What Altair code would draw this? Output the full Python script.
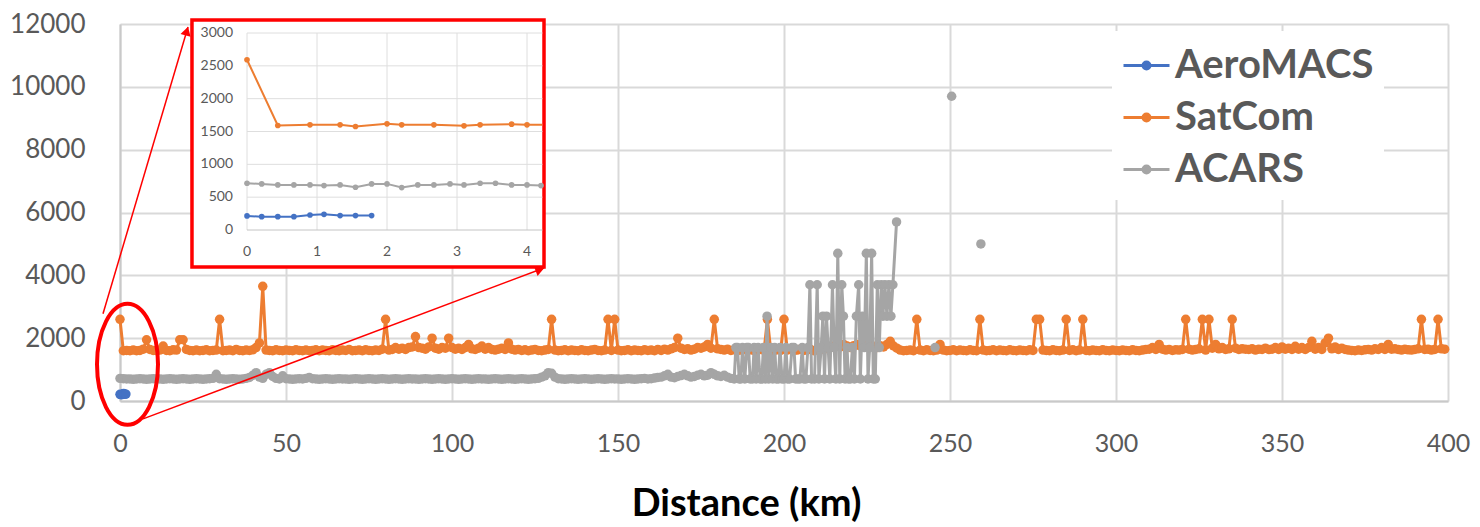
import altair as alt
import pandas as pd

SERIES = ["AeroMACS", "SatCom", "ACARS"]
COLORS = ["#4472C4", "#ED7D31", "#A5A5A5"]
FONT = "Lato"
LABEL_GRAY = "#595959"

# ---------------- main chart data ----------------
# SatCom: one reading per km, starting at 0 km
satcom_vals = [
    2600, 1600, 1610, 1600, 1620, 1600, 1610, 1650, 1950, 1640, 1610, 1600, 1620, 1750, 1610, 1600, 1630, 1620, 1950, 1950,
    1640, 1610, 1600, 1620, 1600, 1610, 1630, 1600, 1610, 1620, 2600, 1600, 1610, 1620, 1600, 1640, 1610, 1600, 1620, 1610,
    1630, 1700, 1850, 3650, 1620, 1610, 1600, 1630, 1610, 1600, 1620, 1610, 1600, 1630, 1610, 1600, 1620, 1600, 1610, 1630,
    1600, 1620, 1610, 1600, 1630, 1610, 1600, 1620, 1610, 1640, 1600, 1610, 1620, 1600, 1630, 1610, 1600, 1620, 1610, 1650,
    2600, 1620, 1640, 1700, 1650, 1680, 1640, 1700, 1720, 2050, 1700, 1680, 1650, 1720, 2000, 1680, 1650, 1700, 1680, 2000,
    1700, 1650, 1680, 1640, 1700, 1800, 1660, 1640, 1680, 1750, 1650, 1700, 1640, 1620, 1650, 1680, 1640, 1850, 1650, 1620,
    1640, 1610, 1630, 1600, 1620, 1640, 1610, 1600, 1620, 1640, 2600, 1620, 1600, 1610, 1630, 1600, 1620, 1610, 1600, 1630,
    1610, 1600, 1620, 1640, 1610, 1600, 1620, 2600, 1610, 2600, 1620, 1600, 1610, 1630, 1600, 1620, 1610, 1600, 1630, 1610,
    1620, 1600, 1640, 1610, 1650, 1620, 1660, 1700, 2000, 1680, 1640, 1660, 1620, 1650, 1700, 1680, 1720, 1800, 1680, 2600,
    1660, 1640, 1620, 1650, 1610, 1630, 1600, 1620, 1640, 1610, 1630, 1600, 1620, 1640, 1610, 2600, 1620, 1600, 1630, 1610,
    2600, 1620, 1640, 1600, 1620, 1650, 1610, 1630, 1640, 1600, 1620, 1650, 1640, 1680, 1700, 1750, 2000, 1720, 1800, 1750,
    1700, 1760, 1800, 1750, 2000, 2000, 1780, 1740, 1700, 1760, 1720, 1800, 1900, 1750, 1680, 1620, 1600, 1610, 1620, 1600,
    2600, 1620, 1600, 1630, 1610, 1600, 1620, 1800, 1620, 1600, 1610, 1630, 1600, 1620, 1610, 1600, 1630, 1610, 1600, 2600,
    1620, 1600, 1610, 1630, 1600, 1620, 1610, 1600, 1630, 1610, 1600, 1620, 1610, 1600, 1630, 1610, 2600, 2600, 1620, 1610,
    1600, 1630, 1610, 1600, 1620, 2600, 1610, 1630, 1600, 1620, 2600, 1610, 1600, 1620, 1610, 1600, 1630, 1610, 1600, 1620,
    1610, 1600, 1620, 1610, 1600, 1630, 1610, 1600, 1620, 1640, 1650, 1700, 1640, 1800, 1650, 1620, 1640, 1610, 1630, 1620,
    1640, 2600, 1650, 1620, 1640, 1660, 2600, 1620, 2600, 1680, 1800, 1660, 1700, 1640, 1660, 2600, 1680, 1640, 1660, 1650,
    1640, 1660, 1620, 1650, 1640, 1680, 1640, 1650, 1700, 1640, 1720, 1650, 1680, 1640, 1740, 1650, 1700, 1640, 1700, 1900,
    1650, 1700, 1640, 1850, 2000, 1660, 1720, 1640, 1680, 1640, 1620, 1610, 1600, 1620, 1610, 1630, 1640, 1620, 1660, 1640,
    1700, 1640, 1800, 1650, 1660, 1640, 1620, 1650, 1630, 1620, 1640, 1660, 2600, 1640, 1650, 1620, 1640, 2600, 1660, 1650,
]

# ACARS: one reading per km from 0 to 184 km
acars_base_vals = [
    720, 710, 700, 700, 690, 700, 710, 700, 690, 700, 710, 700, 700, 690, 700, 710, 700, 690, 700, 710,
    700, 690, 700, 710, 700, 690, 700, 710, 720, 850, 710, 700, 690, 700, 710, 700, 690, 700, 720, 750,
    820, 900, 760, 720, 850, 900, 780, 720, 700, 800, 710, 700, 690, 700, 710, 700, 720, 750, 710, 700,
    690, 700, 710, 700, 690, 700, 710, 700, 700, 690, 700, 710, 700, 690, 700, 710, 700, 690, 700, 710,
    700, 690, 700, 710, 700, 690, 700, 710, 700, 700, 690, 700, 710, 700, 690, 700, 710, 700, 690, 700,
    710, 700, 690, 700, 710, 700, 690, 700, 710, 700, 700, 690, 700, 710, 700, 690, 700, 710, 700, 690,
    700, 710, 700, 690, 700, 710, 720, 760, 800, 900, 880, 760, 710, 700, 690, 700, 710, 700, 690, 700,
    710, 700, 690, 700, 710, 700, 690, 700, 710, 700, 700, 690, 700, 710, 700, 690, 700, 710, 720, 700,
    710, 730, 750, 760, 800, 850, 760, 740, 780, 810, 850, 800, 760, 780, 820, 850, 800, 820, 900, 850,
    800, 780, 820, 760, 720,
]
# ACARS: unstable section 185-234 km
acars_turb_km = [
    185.0, 185.5, 186.0, 186.5, 187.0, 187.5, 188.2, 188.8, 189.3, 189.8, 190.5, 191.0, 191.6, 192.2, 192.8,
    193.3, 193.8, 194.4, 194.9, 195.4, 196.0, 196.6, 197.2, 197.7, 198.3, 198.8, 199.4, 200.0, 200.6, 201.1,
    201.7, 202.4, 203.0, 203.5, 204.2, 204.8, 205.5, 206.0, 206.6, 207.2, 207.8, 208.3, 209.2, 210.0, 210.5,
    211.2, 211.7, 212.2, 212.8, 213.3, 213.8, 214.6, 215.1, 215.6, 216.2, 216.8, 217.4, 217.9, 218.4, 219.0,
    219.4, 220.0, 220.6, 221.2, 221.8, 222.5, 223.0, 223.6, 224.2, 224.8, 225.3, 225.8, 226.4, 226.9, 227.5,
    228.1, 228.7, 229.3, 229.8, 230.4, 231.0, 231.6, 232.2, 232.8, 233.9,
]
acars_turb_vals = [
    700, 1700, 1700, 700, 700, 1700, 700, 1700, 1700, 700, 700, 1700, 700, 1700, 700,
    700, 1700, 700, 2700, 700, 1700, 700, 1700, 700, 700, 1700, 700, 700, 1700, 700,
    700, 1700, 1700, 700, 700, 700, 1700, 700, 700, 1700, 3700, 700, 700, 3700, 700,
    1700, 2700, 700, 2700, 1700, 700, 3700, 1700, 700, 4700, 700, 3700, 2700, 700, 1700,
    700, 700, 1700, 700, 2700, 3700, 700, 2700, 1700, 4700, 700, 1700, 4700, 700, 700,
    3700, 1700, 3700, 2700, 3700, 2700, 3700, 2700, 3700, 5700,
]
# ACARS: isolated readings after the gap
acars_iso_km = [245.5, 250.5, 259.3]
acars_iso_vals = [1700, 9700, 5000]

# AeroMACS (only the first 1.8 km)
aero_km = [0, 0.21, 0.44, 0.67, 0.9, 1.1, 1.33, 1.55, 1.78]
aero_vals = [214, 203, 203, 203, 229, 239, 219, 219, 219]

# ---------------- inset (zoom on 0-4 km) ----------------
inset_satcom_km = [0, 0.44, 0.9, 1.33, 1.55, 2.0, 2.21, 2.67, 3.1, 3.33, 3.78, 4.0, 4.22]
inset_satcom_vals = [2593, 1592, 1602, 1602, 1576, 1617, 1602, 1602, 1586, 1602, 1612, 1602, 1602]
inset_satcom_marker = [1, 1, 1, 1, 1, 1, 1, 1, 1, 1, 1, 1, 0]
inset_acars_km = [0, 0.21, 0.44, 0.67, 0.9, 1.1, 1.33, 1.55, 1.78, 2.0, 2.21, 2.44, 2.67, 2.9, 3.1, 3.33, 3.55, 3.78, 4.0, 4.2]
inset_acars_vals = [712, 702, 686, 686, 686, 676, 686, 651, 702, 702, 646, 686, 686, 702, 686, 712, 712, 686, 686, 676]
inset_x_ticks = [0, 1, 2, 3, 4]
inset_y_ticks = [0, 500, 1000, 1500, 2000, 2500, 3000]
inset_box_km = [-0.786, 4.243]
inset_box_vals = [3198, -563]
inset_grid_right_km = 4.22

main_x_ticks = [0, 50, 100, 150, 200, 250, 300, 350, 400]
main_y_ticks = [0, 2000, 4000, 6000, 8000, 10000, 12000]

# annotations in main-chart units (km, value)
ellipse_km, ellipse_val = [2.26], [1168]
arrow_km = [-5.12, 6.93]
arrow_val = [2779, -568]
arrow_km2 = [20.48, 127.7]
arrow_val2 = [11905, 4232]
head_km = [20.12, 126.5]
head_val = [11777, 4184]
head_angle = [16.4, 69.2]

# ---------------- tables ----------------
rows = []
for i, v in enumerate(satcom_vals):
    rows.append({"series": "SatCom", "km": float(i), "val": v, "seg": 0})
for i, v in enumerate(acars_base_vals):
    rows.append({"series": "ACARS", "km": float(i), "val": v, "seg": 0})
for k, v in zip(acars_turb_km, acars_turb_vals):
    rows.append({"series": "ACARS", "km": k, "val": v, "seg": 0})
for j, (k, v) in enumerate(zip(acars_iso_km, acars_iso_vals)):
    rows.append({"series": "ACARS", "km": k, "val": v, "seg": j + 1})
for k, v in zip(aero_km, aero_vals):
    rows.append({"series": "AeroMACS", "km": k, "val": v, "seg": 0})
main_df = pd.DataFrame(rows)

x_main = alt.X(
    "km:Q",
    scale=alt.Scale(domain=[0, 400], nice=False, zero=False),
    axis=alt.Axis(
        values=main_x_ticks, grid=True, gridColor="#d9d9d9", gridWidth=2,
        domainColor="#c9c9c9", domainWidth=2, ticks=False, labelFlush=False,
        labelFont=FONT, labelFontSize=25, labelColor=LABEL_GRAY, labelPadding=30,
        format="d",
        title="Distance (km)", titleFont=FONT, titleFontSize=38, titleFontWeight="bold",
        titleColor="#000000", titleX=626, titleY=114, titleAlign="center",
        titleBaseline="alphabetic",
    ),
)
y_main = alt.Y(
    "val:Q",
    scale=alt.Scale(domain=[0, 12000], nice=False),
    axis=alt.Axis(
        values=main_y_ticks, grid=True, gridColor="#d9d9d9", gridWidth=2,
        domainColor="#c9c9c9", domainWidth=2, ticks=False, labelFlush=False,
        labelFont=FONT, labelFontSize=26, labelColor=LABEL_GRAY, labelPadding=35,
        format="d", title=None,
    ),
)
legend_symbol = "M-1,0H1M-0.15,0A0.15,0.15,0,1,1,0.15,0A0.15,0.15,0,1,1,-0.15,0Z"
color_main = alt.Color(
    "series:N",
    scale=alt.Scale(domain=SERIES, range=COLORS),
    legend=alt.Legend(
        orient="none", legendX=992, legendY=7, title=None,
        labelFont=FONT, labelFontSize=40, labelFontWeight="bold", labelColor=LABEL_GRAY,
        labelLimit=500, labelOffset=4,
        symbolType=legend_symbol, symbolSize=2116, symbolStrokeWidth=3,
        rowPadding=7, padding=10, fillColor="white",
    ),
)

series_layers = []
for s in SERIES:
    series_layers.append(
        alt.Chart(main_df)
        .transform_filter(alt.datum.series == s)
        .mark_line(strokeWidth=3, point=alt.OverlayMarkDef(filled=True, size=90, opacity=1))
        .encode(x=x_main, y=y_main, color=color_main, detail="seg:N")
    )

ellipse = alt.Chart(pd.DataFrame({"km": ellipse_km, "val": ellipse_val})).mark_point(
    shape="M-0.504,0A0.504,1,0,1,0,0.504,0A0.504,1,0,1,0,-0.504,0Z",
    size=14641, filled=False, stroke="#FF0000", strokeWidth=4, opacity=1,
).encode(x=x_main, y=y_main)

arrows = alt.Chart(pd.DataFrame({"km": arrow_km, "val": arrow_val, "km2": arrow_km2, "val2": arrow_val2})).mark_rule(
    color="#FF0000", strokeWidth=1.5
).encode(x=x_main, y=y_main, x2="km2:Q", y2="val2:Q")

heads = alt.Chart(pd.DataFrame({"km": head_km, "val": head_val, "ang": head_angle})).mark_point(
    shape="triangle-up", filled=True, color="#FF0000", size=110, opacity=1
).encode(
    x=x_main, y=y_main,
    angle=alt.Angle("ang:Q", scale=alt.Scale(domain=[0, 360], range=[0, 360])),
)

main_group = alt.layer(*series_layers, ellipse, arrows, heads)

# ---------------- inset ----------------
x_in = alt.X("km:Q", scale=alt.Scale(domain=[0, 4], range=[127, 407], nice=False, zero=False), axis=None)
y_in = alt.Y("val:Q", scale=alt.Scale(domain=[0, 3000], range=[206, 9], nice=False), axis=None)

box = alt.Chart(pd.DataFrame({"km": [inset_box_km[0]], "km2": [inset_box_km[1]],
                              "val": [inset_box_vals[0]], "val2": [inset_box_vals[1]]})).mark_rect(
    fill="white", stroke="#FF0000", strokeWidth=3.5
).encode(x=x_in, x2="km2:Q", y=y_in, y2="val2:Q")

vgrid = alt.Chart(pd.DataFrame({"km": inset_x_ticks, "val": [0] * 5, "val2": [3000] * 5})).mark_rule(
    color="#dedede", strokeWidth=1
).encode(x=x_in, y=y_in, y2="val2:Q")

hgrid_df = pd.DataFrame({"val": inset_y_ticks, "km": [0] * 7, "km2": [inset_grid_right_km] * 7,
                         "axis": [1, 0, 0, 0, 0, 0, 0]})
hgrid = alt.Chart(hgrid_df).mark_rule(strokeWidth=1).encode(
    x=x_in, x2="km2:Q", y=y_in,
    color=alt.condition(alt.datum.axis == 1, alt.value("#c4c4c4"), alt.value("#dedede")),
)

inset_sat_df = pd.DataFrame({"km": inset_satcom_km, "val": inset_satcom_vals, "m": inset_satcom_marker})
inset_aca_df = pd.DataFrame({"km": inset_acars_km, "val": inset_acars_vals})
inset_aer_df = pd.DataFrame({"km": aero_km, "val": aero_vals})

def inset_series(df, col, filt=None):
    line = alt.Chart(df).mark_line(color=col, strokeWidth=2).encode(x=x_in, y=y_in)
    pts = alt.Chart(df)
    if filt is not None:
        pts = pts.transform_filter(filt)
    pts = pts.mark_point(filled=True, color=col, size=32, opacity=1).encode(x=x_in, y=y_in)
    return [line, pts]

inset_layers = []
inset_layers += inset_series(inset_aca_df, COLORS[2])
inset_layers += inset_series(inset_sat_df, COLORS[1], alt.datum.m == 1)
inset_layers += inset_series(inset_aer_df, COLORS[0])

xlab = alt.Chart(pd.DataFrame({"km": inset_x_ticks, "val": [0] * 5})).mark_text(
    font=FONT, fontSize=14, color=LABEL_GRAY, baseline="middle", align="center", dy=22
).encode(x=x_in, y=y_in, text=alt.Text("km:Q", format="d"))
ylab = alt.Chart(pd.DataFrame({"km": [0] * 7, "val": inset_y_ticks})).mark_text(
    font=FONT, fontSize=14, color=LABEL_GRAY, baseline="middle", align="right", dx=-14
).encode(x=x_in, y=y_in, text=alt.Text("val:Q", format="d"))

inset_group = alt.layer(box, vgrid, hgrid, *inset_layers, xlab, ylab)

chart = (
    alt.layer(main_group, inset_group)
    .resolve_scale(x="independent", y="independent")
    .properties(
        width=1328, height=377,
        autosize=alt.AutoSizeParams(type="none"),
        padding={"left": 112, "top": 16, "right": 24, "bottom": 126},
        background="white",
    )
    .configure_view(stroke="transparent")
)

chart.save("out.html", embed_options={"renderer": "svg", "actions": False})
